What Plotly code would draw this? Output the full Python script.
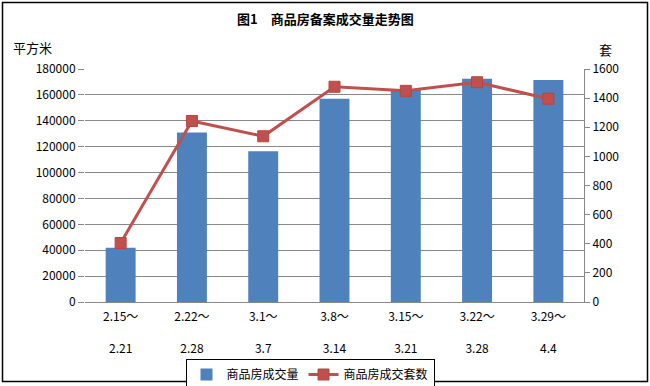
import plotly.graph_objects as go

categories = ["2.15～<br><br>2.21", "2.22～<br><br>2.28", "3.1～<br><br>3.7", "3.8～<br><br>3.14",
              "3.15～<br><br>3.21", "3.22～<br><br>3.28", "3.29～<br><br>4.4"]
area_values = [42000, 131000, 116500, 157000, 164500, 172500, 171500]
unit_values = [405, 1243, 1138, 1478, 1450, 1509, 1396]
left_ticks = list(range(0, 180001, 20000))
right_ticks = list(range(0, 1601, 200))

FONT = "SimSun, 'Noto Sans CJK SC', sans-serif"
W, H = 650, 386
L, R, T, B = 85, 66, 69, 84
pw, ph = W - L - R, H - T - B

fig = go.Figure()
fig.add_trace(go.Bar(x=categories, y=area_values, name="商品房成交量",
                     marker=dict(color="#4F81BD", line=dict(width=0)), width=0.42, yaxis="y"))
fig.add_trace(go.Scatter(x=categories, y=unit_values, name="商品房成交套数", mode="lines+markers",
                         line=dict(color="#C0504D", width=3),
                         marker=dict(symbol="square", size=11, color="#C0504D",
                                     line=dict(color="#B9443F", width=1)),
                         yaxis="y2"))

def px_x(x):
    return (x - L) / pw

def px_y(y):
    return (H - B - y) / ph

fig.update_layout(
    width=W, height=H,
    margin=dict(l=L, r=R, t=T, b=B, autoexpand=False),
    paper_bgcolor="white", plot_bgcolor="white",
    font=dict(family=FONT, size=12, color="black"),
    showlegend=True,
    legend=dict(orientation="h", xref="container", x=310 / W, xanchor="center",
                yref="container", y=1 - 359 / H, yanchor="top",
                bordercolor="black", borderwidth=1, font=dict(size=12),
                itemwidth=30, tracegroupgap=0),
    xaxis=dict(type="category", showgrid=False, showline=True, linecolor="#888888", linewidth=1,
               ticks="", tickfont=dict(size=12), range=[-0.5, 6.5], automargin=False,
               ticklabelstandoff=4),
    yaxis=dict(range=[0, 180000], tickvals=left_ticks, ticktext=[str(v) for v in left_ticks],
               showgrid=True, gridcolor="#888888", gridwidth=1, showline=False,
               ticks="outside", ticklen=6, tickcolor="#888888", zeroline=False,
               tickfont=dict(size=12), automargin=False),
    yaxis2=dict(range=[0, 1600], tickvals=right_ticks, overlaying="y", side="right",
                showgrid=False, showline=True, linecolor="#888888", linewidth=1,
                ticks="outside", ticklen=5, tickcolor="#888888", zeroline=False,
                tickfont=dict(size=12), automargin=False),
)

fig.add_annotation(text="<b>图1　商品房备案成交量走势图</b>", xref="paper", yref="paper",
                   x=px_x(325), y=px_y(18), xanchor="center", yanchor="middle",
                   showarrow=False, font=dict(size=13, family=FONT))
fig.add_annotation(text="平方米", xref="paper", yref="paper", x=px_x(11), xanchor="left",
                   y=px_y(47), yanchor="middle", showarrow=False, font=dict(size=13, family=FONT))
fig.add_annotation(text="套", xref="paper", yref="paper", x=px_x(605), xanchor="center",
                   y=px_y(50), yanchor="middle", showarrow=False, font=dict(size=13, family=FONT))
fig.add_shape(type="rect", xref="paper", yref="paper", x0=px_x(2.5), x1=px_x(647.5),
              y0=px_y(381.5), y1=px_y(2.5), line=dict(color="black", width=1.5))

fig.write_html("out.html", config={"displayModeBar": False},
               post_script="document.body.style.margin='0';document.body.style.padding='0';")
